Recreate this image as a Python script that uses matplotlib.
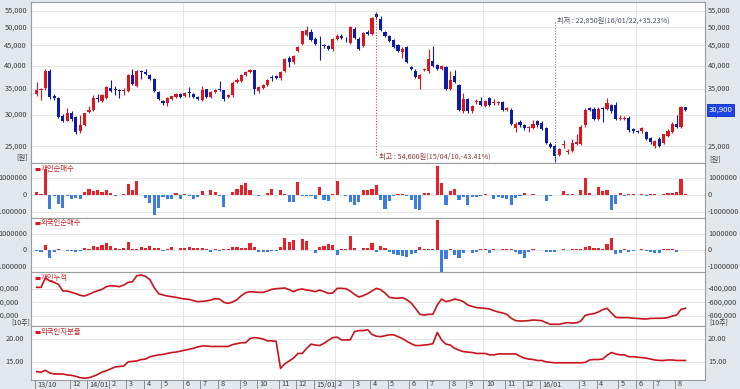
import numpy as np
import pandas as pd
import matplotlib
matplotlib.use('Agg')
import matplotlib.pyplot as plt
from matplotlib import transforms
from matplotlib.lines import Line2D

plt.rcParams['font.family'] = ['Noto Sans CJK KR', 'DejaVu Sans']

# weekly candles, first week 2013-10-11
start_date = '2013-10-11'
opens = [34000, 34700, 35050, 38750, 33550, 33050, 29850, 29000, 30300, 29700,
         27300, 28300, 30550, 30850, 33100, 32500, 33050, 35200, 34850, 34700,
         34500, 34500, 37850, 35550, 38700, 38450, 37850, 37100, 34350, 32500,
         32100, 33000, 33350, 34000, 33550, 34200, 33900, 33350, 32700, 34850,
         33350, 34350, 34850, 34650, 33350, 33650, 36400, 36550, 37950, 38550,
         38900, 34450, 35200, 35700, 37450, 37700, 37150, 38850, 41800, 40800,
         43500, 45350, 47800, 48600, 46700, 45200, 45000, 44750, 44000, 46800,
         47650, 46500, 45700, 49500, 46800, 44800, 48700, 48100, 54000, 52600,
         48700, 47500, 46500, 45000, 43300, 44550, 39600, 38850, 37050, 39000,
         38700, 41000, 40250, 39250, 39700, 35000, 37700, 35650, 30650, 32950,
         30650, 32300, 32650, 31700, 33150, 32150, 32150, 32300, 30950, 30950,
         27900, 28850, 28250, 27900, 27900, 28950, 28600, 27750, 25300, 25000,
         23800, 25200, 24150, 24350, 25400, 25400, 28250, 31250, 31150, 29400,
         31150, 31150, 31750, 31750, 29400, 29400, 29550, 27600, 27300, 27300,
         27200, 26200, 25000, 26150, 25550, 26600, 27200, 28450, 28000, 31400]
highs = [36400, 35200, 39200, 39300, 34000, 33300, 30200, 31200, 30700, 29900,
         30000, 30400, 31600, 33700, 34000, 34000, 35600, 36800, 35500, 34900,
         35200, 38100, 39200, 39000, 39000, 39300, 38000, 37300, 34500, 32700,
         33300, 33600, 34200, 34200, 34400, 35350, 34100, 33500, 35500, 35000,
         34500, 34900, 36550, 34800, 33900, 36500, 37250, 38000, 38700, 39300,
         39100, 35500, 35900, 37000, 37950, 37900, 38700, 41800, 42200, 42500,
         44900, 49100, 50500, 49500, 47300, 47500, 45300, 45000, 47000, 48000,
         48000, 47200, 50300, 50000, 47200, 48700, 49200, 53100, 54600, 53500,
         49100, 47800, 46800, 45300, 44500, 44800, 40000, 39200, 38200, 39500,
         44100, 44800, 40500, 40100, 40000, 38700, 39100, 35900, 34100, 33200,
         31800, 32900, 33300, 32700, 33400, 33000, 32600, 32500, 31500, 31200,
         28800, 29100, 28500, 28200, 29100, 29200, 28900, 28000, 25600, 25300,
         24800, 25900, 24600, 26100, 26900, 28300, 31200, 31500, 31400, 31400,
         31400, 33200, 32000, 32400, 30000, 29800, 29900, 27900, 27500, 28000,
         27400, 26400, 26000, 26400, 26900, 27600, 28800, 30000, 31600, 31500]
lows = [33600, 32800, 34800, 33000, 32800, 29500, 28800, 28900, 29000, 26850,
        27100, 28100, 30400, 30700, 32400, 32300, 32900, 34400, 33800, 33100,
        33700, 34300, 35700, 35300, 37000, 37900, 36900, 34400, 32700, 31900,
        31600, 32800, 33200, 33100, 33300, 33350, 33100, 32700, 32500, 33100,
        33150, 34100, 34500, 32500, 33100, 33400, 36100, 36300, 37700, 38300,
        34000, 34100, 35000, 35500, 36550, 37000, 36900, 38600, 39600, 40500,
        43200, 45100, 47500, 46200, 45000, 41400, 44400, 43900, 43700, 46500,
        46600, 45900, 45400, 46700, 43800, 44500, 47700, 47800, 52600, 49000,
        47200, 46000, 44300, 43300, 41800, 40600, 39000, 37300, 35000, 38700,
        38400, 39600, 38900, 38900, 34700, 34700, 36100, 30700, 30400, 30400,
        30400, 32000, 31600, 31400, 31600, 31900, 31900, 30700, 30700, 28300,
        27200, 28000, 27500, 27200, 27700, 28000, 27500, 25300, 24700, 22850,
        23600, 24800, 23900, 24200, 25200, 25200, 28000, 30700, 29100, 29200,
        28850, 30900, 30400, 29100, 29200, 29200, 27200, 27000, 27000, 27100,
        25900, 25400, 24800, 24900, 25300, 26400, 27000, 27800, 27800, 30800]
closes = [34700, 35000, 38750, 33350, 33050, 29700, 29000, 30450, 29300, 27200,
          28300, 30300, 30850, 33050, 32950, 33800, 35350, 34600, 34800, 34500,
          34650, 37850, 35900, 38750, 38600, 38000, 37100, 34550, 32900, 32100,
          33100, 33450, 34000, 33350, 34200, 34150, 33350, 32900, 34650, 33350,
          34350, 34650, 34650, 33000, 33650, 36250, 36750, 37800, 38550, 38900,
          34850, 35350, 35700, 36750, 37150, 37150, 38550, 41550, 40950, 42200,
          44650, 48850, 49150, 46500, 45350, 45000, 44750, 44200, 46800, 47650,
          46900, 46400, 50000, 47000, 44100, 48400, 48000, 52800, 53000, 49300,
          47500, 46300, 44550, 43600, 44200, 40850, 39300, 37550, 37900, 39250,
          41500, 39850, 39250, 39850, 35000, 36800, 36400, 30950, 32950, 30650,
          31550, 32650, 31900, 32500, 31900, 32300, 32300, 30950, 31250, 28550,
          28550, 28250, 27750, 28000, 28550, 28250, 27700, 25550, 24950, 23700,
          24600, 25350, 24350, 25450, 25600, 28000, 30950, 30950, 29400, 31150,
          31100, 32150, 30650, 29300, 29500, 29550, 27450, 27300, 27250, 27750,
          26150, 25700, 25850, 25100, 26800, 27350, 28550, 28000, 31400, 30900]

# net buying, thousand shares
indiv_net_k = [200, 100, 1570, -780, -20, -490, -750, -20, -200, -160,
               -240, 200, 390, 250, 290, 200, 290, 160, -20, -10,
               100, 650, 290, 840, 20, -140, -430, -1180, -750, -100,
               -200, -240, 140, -200, 100, -30, -240, -100, 250, 20,
               290, 200, -20, -690, 20, 200, 390, 590, 750, 330,
               10, -60, 0, 160, 390, 0, 290, 100, -390, -390,
               780, -50, -50, -60, -200, 490, -250, -330, 100, 840,
               10, -20, -390, -550, -390, 330, 290, 390, 590, -250,
               -780, -330, -60, 100, 100, -60, -290, -780, -880, 140,
               140, 20, 1700, 730, -550, 250, 390, -250, -100, -550,
               -100, -100, -20, 60, -10, -240, -100, -140, -200, -550,
               -140, -60, 160, 10, 100, 10, 0, -330, -20, 10,
               -10, 250, 100, 60, 20, 330, 1040, 160, 20, 490,
               250, 290, -880, -530, 160, -60, 60, 60, 10, 60,
               -60, 100, 60, 10, 100, 160, 160, 200, 980, 100]
foreign_net_k = [-40, -80, 310, -450, -80, 60, 0, -60, -60, -120,
                 -60, 120, 60, 270, 180, 330, 430, 270, 120, 60,
                 120, 510, 60, 60, 180, 120, 290, 120, 120, -60,
                 60, 180, 0, 120, 120, 180, 120, 120, 120, 60,
                 -120, 60, -60, 60, 60, 220, 180, 120, 120, 430,
                 180, -100, -100, -120, -60, -40, 180, 730, 530, 610,
                 0, 690, 570, 0, -180, 180, 270, 390, 330, -290,
                 60, 60, 900, 120, 20, 120, 120, 470, -80, 270,
                 120, -120, -220, -290, -350, -390, -220, -140, 220, 60,
                 60, 60, 1860, -1400, -530, 100, -290, -450, -180, 20,
                 -140, -100, 80, 60, -180, 100, 20, 60, 60, 60,
                 -80, -220, -490, -80, 60, 20, 40, -80, -120, -80,
                 40, 60, 40, 60, 60, 100, 180, 270, 140, 120,
                 60, 390, 730, -220, -180, 60, -120, -60, 40, 60,
                 -60, -80, -140, -180, 60, 60, 60, -100, 20, 40]
# cumulative individual, thousand (10-share units)
indiv_cum_k = [-375, -375, -230, -280, -300, -330, -430, -430, -450, -470,
               -495, -505, -480, -450, -425, -405, -365, -350, -355, -365,
               -340, -300, -290, -200, -190, -210, -260, -380, -470, -490,
               -505, -515, -525, -540, -550, -555, -575, -590, -585, -580,
               -565, -545, -550, -600, -615, -595, -560, -500, -455, -440,
               -445, -450, -450, -430, -405, -395, -390, -385, -410, -440,
               -410, -400, -415, -425, -440, -415, -440, -465, -460, -390,
               -390, -395, -430, -480, -520, -500, -470, -430, -390, -410,
               -460, -525, -535, -540, -530, -560, -610, -690, -780, -790,
               -780, -780, -640, -550, -590, -575, -550, -565, -590, -640,
               -660, -680, -685, -690, -700, -725, -745, -760, -780, -840,
               -875, -880, -880, -875, -865, -870, -875, -905, -930, -930,
               -930, -915, -905, -912, -908, -880, -795, -780, -770, -745,
               -710, -690, -760, -825, -830, -830, -830, -838, -842, -848,
               -850, -842, -840, -840, -838, -830, -805, -790, -705, -690]
foreign_pct = [13.0, 12.9, 13.3, 12.7, 12.5, 12.5, 12.5, 12.3, 12.2, 12.0,
               11.7, 11.6, 11.7, 12.0, 12.4, 12.9, 13.2, 13.6, 14.0, 14.1,
               14.2, 15.1, 15.2, 15.3, 15.6, 15.7, 16.2, 16.4, 16.6, 16.7,
               16.9, 17.1, 17.2, 17.4, 17.6, 17.8, 18.0, 18.3, 18.5, 18.5,
               18.4, 18.4, 18.4, 18.4, 18.4, 18.8, 19.0, 19.2, 19.2, 20.1,
               20.3, 20.2, 20.0, 19.6, 19.6, 19.5, 13.7, 14.7, 15.3, 15.9,
               16.9, 16.9, 18.0, 18.9, 18.7, 18.6, 19.1, 19.7, 20.3, 20.4,
               19.8, 19.8, 19.8, 21.6, 21.8, 21.8, 22.0, 21.0, 20.6, 20.5,
               20.7, 20.9, 20.9, 20.5, 20.1, 19.5, 19.0, 18.6, 18.6, 18.7,
               18.8, 19.0, 21.4, 19.8, 18.9, 18.7, 18.0, 17.6, 17.3, 17.2,
               17.1, 16.9, 16.9, 16.9, 16.6, 16.6, 16.8, 16.8, 16.8, 16.8,
               16.8, 16.3, 15.9, 15.7, 15.6, 15.4, 15.4, 15.1, 15.0, 14.9,
               14.9, 14.9, 14.9, 14.9, 14.9, 14.9, 15.0, 15.5, 15.6, 15.6,
               15.7, 16.5, 17.1, 16.8, 16.6, 16.6, 16.2, 16.2, 16.1, 16.0,
               15.9, 15.7, 15.5, 15.4, 15.4, 15.5, 15.5, 15.4, 15.4, 15.4]

price_ticks = [25000, 30000, 35000, 40000, 45000, 50000, 55000]
net_ticks = [-1000000, 0, 1000000]
cum_ticks = [-800000, -600000, -400000]
pct_ticks = [15, 20]
label_months = ['2013-10', '2013-12'] + \
    ['2014-%02d' % m for m in range(1, 13)] + \
    ['2015-%02d' % m for m in range(1, 13)] + \
    ['2016-01'] + ['2016-%02d' % m for m in range(3, 9)]
grid_months = ['2014-06', '2015-02', '2015-10', '2016-06']

RED = '#dc141c'
BLUE = '#0c1ca6'
BAR_RED = '#e8202a'
BAR_BLUE = '#3d7de2'
LINE_RED = '#c8141e'
TXT = '#3c3c3c'
W, H = 740, 389

dates = pd.date_range(start_date, periods=len(closes), freq='7D')
x = np.arange(len(closes))
ym = dates.strftime('%Y-%m')


def first_week(month):
    return int(np.where(ym == month)[0][0])


fig = plt.figure(figsize=(W / 100, H / 100), dpi=100, facecolor='#e3e8ee')


def panel(top, bottom):
    ax = fig.add_axes([31 / W, 1 - bottom / H, 674 / W, (bottom - top) / H])
    ax.set_facecolor('white')
    ax.set_xlim(-1.31, 153.5)
    ax.set_xticks([])
    ax.tick_params(length=0, labelleft=False, labelbottom=False)
    for s in ax.spines.values():
        s.set_color('#9c9c9c')
        s.set_linewidth(0.8)
    for m in grid_months:
        ax.axvline(first_week(m) - 0.4, color='#e6e6e6', lw=0.7, zorder=0)
    return ax


def side_labels(ax, ticks, labels, left_x):
    ax.set_yticks(ticks)
    ax.set_yticklabels([])
    ax.yaxis.set_minor_locator(matplotlib.ticker.NullLocator())
    ax.grid(axis='y', color='#e6e6e6', lw=0.7, zorder=0)
    ax.set_axisbelow(True)
    tr = transforms.blended_transform_factory(fig.transFigure, ax.transData)
    for t, l in zip(ticks, labels):
        ax.text(left_x / W, t, l, transform=tr, ha='right', va='center',
                fontsize=5.3, color=TXT, clip_on=False)
        ax.text(708 / W, t, l, transform=tr, ha='left', va='center',
                fontsize=5.3, color=TXT, clip_on=False)


def legend(y, text):
    fig.add_artist(Line2D([35 / W, 40 / W], [1 - y / H, 1 - y / H], lw=2.2,
                          color=RED, transform=fig.transFigure,
                          solid_capstyle='butt'))
    fig.text(41 / W, 1 - y / H, text, fontsize=5.3, color='#c0282e',
             ha='left', va='center')


def ftext(xp, yp, s, size=5.3, **kw):
    fig.text(xp / W, 1 - yp / H, s, fontsize=size, color=TXT, va='center', **kw)


# price panel
ax1 = panel(2, 163.3)
ax1.set_yscale('log')
ax1.set_ylim(22650, 57970)
side_labels(ax1, price_ticks, ['{:,}'.format(v) for v in price_ticks], 27)
o = np.array(opens); c = np.array(closes)
hi = np.array(highs); lo = np.array(lows)
up = c >= o
cols = np.where(up, RED, BLUE)
ax1.vlines(x, lo, hi, colors=cols, lw=0.8, zorder=2)
body_lo = np.minimum(o, c)
body_h = np.maximum(np.abs(c - o), body_lo * 0.004)
ax1.bar(x, body_h, bottom=body_lo, width=0.72, color=cols, lw=0, zorder=3)

imax = int(np.argmax(hi)); imin = int(np.argmin(lo))
last = closes[-1]
y0, y1 = ax1.get_ylim()
bottom_p = y0 * (y1 / y0) ** 0.05
top_p = y0 * (y1 / y0) ** 0.875
ax1.plot([imax, imax], [bottom_p, hi[imax]], ls=(0, (1, 1.5)), lw=0.8,
         color='#c0454a', zorder=4)
ax1.plot([imin, imin], [lo[imin], top_p], ls=(0, (1, 1.5)), lw=0.8,
         color='#7080a8', zorder=4)
bt = transforms.blended_transform_factory(ax1.transData, ax1.transAxes)
ax1.text(imax + 0.6, 0.04,
         '최고 : {:,}원({},{:+.2f}%)'.format(hi[imax], dates[imax].strftime('%y/%m/%d'),
                                         (last - hi[imax]) / hi[imax] * 100),
         transform=bt, fontsize=5.2, color='#8a3a36', ha='left', va='center')
ax1.text(imin + 0.6, 0.885,
         '최저 : {:,}원({},{:+.2f}%)'.format(lo[imin], dates[imin].strftime('%y/%m/%d'),
                                         (last - lo[imin]) / lo[imin] * 100),
         transform=bt, fontsize=5.2, color='#4a4e60', ha='left', va='center')
tr1 = transforms.blended_transform_factory(fig.transFigure, ax1.transData)
ax1.text(708.5 / W, last, '{:,}'.format(last), transform=tr1, ha='left',
         va='center', fontsize=5.6, color='white', zorder=10, clip_on=False,
         bbox=dict(boxstyle='square,pad=0.22', fc='#1e44e4', ec='#0a2cc0', lw=0.6))
ftext(28, 157.5, '[원]', ha='right')
ftext(709, 160, '[원]', ha='left')

# individual net buying
ax2 = panel(163.3, 218.3)
ax2.set_ylim(-1.35e6, 1.88e6)
side_labels(ax2, net_ticks, [str(v) for v in net_ticks], 27)
v2 = np.array(indiv_net_k) * 1000
ax2.bar(x, v2, width=0.72, color=np.where(v2 >= 0, BAR_RED, BAR_BLUE), lw=0, zorder=3)
legend(169.5, '개인순매수')

# foreign net buying
ax3 = panel(218.3, 271.7)
ax3.set_ylim(-1.31e6, 1.96e6)
side_labels(ax3, net_ticks, [str(v) for v in net_ticks], 27)
v3 = np.array(foreign_net_k) * 1000
ax3.bar(x, v3, width=0.72, color=np.where(v3 >= 0, BAR_RED, BAR_BLUE), lw=0, zorder=3)
legend(223.5, '외국인순매수')

# cumulative individual
ax4 = panel(271.7, 325.7)
ax4.set_ylim(-951000, -140000)
side_labels(ax4, cum_ticks, ['{:,}'.format(v) for v in cum_ticks], 19)
ax4.plot(x, np.array(indiv_cum_k) * 1000, color=LINE_RED, lw=1.2, zorder=3)
legend(277.7, '개인누적')
ftext(30, 322.8, '[10주]', size=5.0, ha='right')
ftext(709, 322.8, '[10주]', size=5.0, ha='left')

# foreign ownership
ax5 = panel(325.7, 380)
ax5.set_ylim(11.21, 22.85)
side_labels(ax5, pct_ticks, ['%.2f' % v for v in pct_ticks], 24)
ax5.plot(x, foreign_pct, color=LINE_RED, lw=1.2, zorder=3)
legend(331.7, '외국인지분율')

bx = transforms.blended_transform_factory(ax5.transData, fig.transFigure)
for m in label_months:
    i = first_week(m)
    d = dates[i]
    lab = d.strftime('%y/%m') if (d.month == 1 or i == 0) else str(d.month)
    fig.add_artist(Line2D([i - 0.4, i - 0.4], [1 - 380 / H, 1 - 389 / H],
                          transform=bx, color='#8c8c8c', lw=0.7))
    ax5.text(i + 0.2, 1 - 384.5 / H, lab, transform=bx, fontsize=5.3,
             color=TXT, ha='left', va='center', clip_on=False)

fig.savefig('out.png', dpi=100, facecolor=fig.get_facecolor())
